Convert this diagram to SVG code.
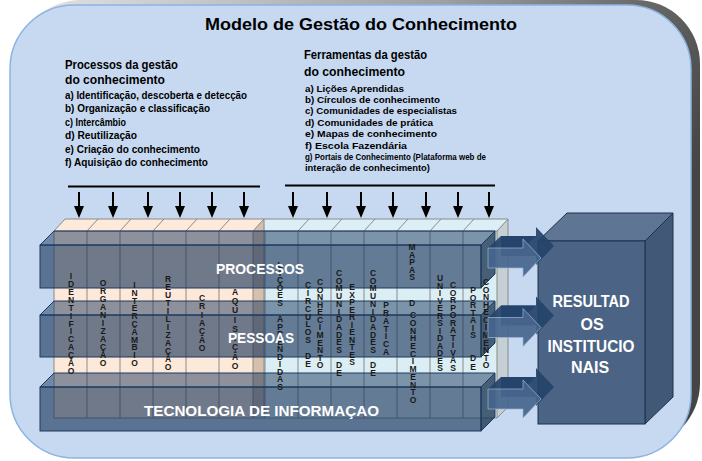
<svg xmlns="http://www.w3.org/2000/svg" width="702" height="461" viewBox="0 0 702 461">
<defs>
<linearGradient id="shadowGrad" x1="0" y1="0" x2="1" y2="0.35">
<stop offset="0" stop-color="#e4e4e4"/>
<stop offset="0.55" stop-color="#a0a0a0"/>
<stop offset="1" stop-color="#454545"/>
</linearGradient>
<marker id="ah" viewBox="0 0 12 10" refX="0" refY="5" markerWidth="12" markerHeight="10" markerUnits="userSpaceOnUse" orient="auto">
<path d="M0,0 L12,5 L0,10 Z" fill="#000"/>
</marker>
<g id="barrow">
<path class="ab" d="M501,-22 H536 V-31 L554,-12 L536,7 V-2 H501 Z"/>
<path class="ab" d="M488,-10 L501,-22 H536 L523,-10 Z"/>
<path class="af" d="M488,-10 H523 V-19 L541,0 L523,19 V10 H488 Z"/>
</g>
<style>
.t{font-family:'Liberation Sans',Arial,sans-serif;font-weight:bold;fill:#000}
.h{font-size:13px}
.il{font-size:10.5px}
.ir{font-size:9.5px}
.v{font-family:'Liberation Sans',Arial,sans-serif;font-weight:bold;font-size:8.5px;fill:#1a1a1a;text-anchor:middle}
.w{font-family:'Liberation Sans',Arial,sans-serif;font-weight:bold;fill:#fff;font-size:15px}
.bx{font-family:'Liberation Sans',Arial,sans-serif;font-weight:bold;fill:#fff;font-size:16px;text-anchor:middle}
.g{stroke:#8a8a8a;stroke-width:1;fill:none}
.bf{fill:#122f55;fill-opacity:.6;stroke:#1c3a5e;stroke-width:1}
.bt{fill:#122f55;fill-opacity:.47;stroke:#1c3a5e;stroke-width:1}
.br{fill:#0e2747;fill-opacity:.72;stroke:#1c3a5e;stroke-width:1}
.ab{fill:#24436a;fill-opacity:.92}
.af{fill:#46658d;fill-opacity:.92;stroke:#9db6d6;stroke-width:.7}
.dn{stroke:#000;stroke-width:2;marker-end:url(#ah)}
</style>
</defs>

<g id="frame">
<rect x="17" y="0" width="683" height="447" rx="64" fill="url(#shadowGrad)"/>
<rect x="10" y="5" width="681" height="453" rx="64" fill="#c6d9f1" stroke="#8db3e2" stroke-width="1.5"/>
</g>

<g id="title">
<text class="t" x="205" y="30" font-size="16" textLength="312" lengthAdjust="spacingAndGlyphs">Modelo de Gestão do Conhecimento</text>
</g>

<g id="processos-text">
<text class="t h" x="65" y="69" textLength="113" lengthAdjust="spacingAndGlyphs">Processos da gestão</text>
<text class="t h" x="65" y="84" textLength="100" lengthAdjust="spacingAndGlyphs">do conhecimento</text>
<text class="t il" x="65" y="98.5" textLength="182" lengthAdjust="spacingAndGlyphs">a) Identificação, descoberta e detecção</text>
<text class="t il" x="65" y="112" textLength="145" lengthAdjust="spacingAndGlyphs">b) Organização e classificação</text>
<text class="t il" x="65" y="125.5" textLength="61" lengthAdjust="spacingAndGlyphs">c) Intercâmbio</text>
<text class="t il" x="65" y="139" textLength="72" lengthAdjust="spacingAndGlyphs">d) Reutilização</text>
<text class="t il" x="65" y="152.5" textLength="135" lengthAdjust="spacingAndGlyphs">e) Criação do conhecimento</text>
<text class="t il" x="65" y="166" textLength="143" lengthAdjust="spacingAndGlyphs">f) Aquisição do conhecimento</text>
</g>

<g id="ferramentas-text">
<text class="t h" x="304" y="59" textLength="123" lengthAdjust="spacingAndGlyphs">Ferramentas da gestão</text>
<text class="t h" x="304" y="76" textLength="101" lengthAdjust="spacingAndGlyphs">do conhecimento</text>
<text class="t ir" x="305" y="91.5" textLength="99" lengthAdjust="spacingAndGlyphs">a) Lições Aprendidas</text>
<text class="t ir" x="305" y="102.9" textLength="135" lengthAdjust="spacingAndGlyphs">b) Círculos de conhecimento</text>
<text class="t ir" x="305" y="114.3" textLength="152" lengthAdjust="spacingAndGlyphs">c) Comunidades de especialistas</text>
<text class="t ir" x="305" y="125.7" textLength="128" lengthAdjust="spacingAndGlyphs">d) Comunidades de prática</text>
<text class="t ir" x="305" y="137.1" textLength="132" lengthAdjust="spacingAndGlyphs">e) Mapas de conhecimento</text>
<text class="t ir" x="305" y="148.5" textLength="102" lengthAdjust="spacingAndGlyphs">f) Escola Fazendária</text>
<text class="t ir" x="305" y="159.9" textLength="181" lengthAdjust="spacingAndGlyphs">g) Portais de Conhecimento (Plataforma web de</text>
<text class="t ir" x="305" y="171.3" textLength="125" lengthAdjust="spacingAndGlyphs">interação de conhecimento)</text>
</g>

<g id="connectors">
<line x1="68" y1="186.5" x2="260" y2="186.5" stroke="#000" stroke-width="2"/>
<line x1="285" y1="185.5" x2="495" y2="185.5" stroke="#000" stroke-width="2"/>
<line class="dn" x1="79" y1="192" x2="79" y2="206"/>
<line class="dn" x1="113" y1="192" x2="113" y2="206"/>
<line class="dn" x1="148" y1="192" x2="148" y2="206"/>
<line class="dn" x1="180" y1="192" x2="180" y2="206"/>
<line class="dn" x1="212" y1="192" x2="212" y2="206"/>
<line class="dn" x1="244" y1="192" x2="244" y2="206"/>
<line class="dn" x1="293" y1="192" x2="293" y2="206"/>
<line class="dn" x1="327" y1="192" x2="327" y2="206"/>
<line class="dn" x1="361" y1="192" x2="361" y2="206"/>
<line class="dn" x1="393" y1="192" x2="393" y2="206"/>
<line class="dn" x1="426" y1="192" x2="426" y2="206"/>
<line class="dn" x1="458" y1="192" x2="458" y2="206"/>
<line class="dn" x1="489" y1="192" x2="489" y2="206"/>
</g>

<g id="columns">
<rect x="54" y="231" width="199" height="187" fill="#fde9d9"/>
<polygon points="54,231 65,219 264,219 253,231" fill="#fdeada"/>
<polygon points="253,231 264,219 264,407 253,418" fill="#d5bfad"/>
<rect x="265" y="231" width="232" height="187" fill="#dbeef4"/>
<polygon points="264,219 508,219 497,231 265,231" fill="#ddeff6"/>
<polygon points="497,231 508,219 508,407 497,418" fill="#c4d0d4"/>
<path class="g" d="M54,231 L65,219 H508 L497,231 H54 Z M54,231 V418 H497 V231 M508,219 V407 L497,418 M253,231 V418 M265,231 V418 M253,231 L264,219 V407"/>
<path class="g" d="M87,231 V418 M120,231 V418 M153,231 V418 M186,231 V418 M219,231 V418 M298,231 V418 M331,231 V418 M364,231 V418 M397,231 V418 M430,231 V418 M463,231 V418"/>
<path class="g" d="M87,231 L98,219 M120,231 L131,219 M153,231 L164,219 M186,231 L197,219 M219,231 L230,219 M298,231 L309,219 M331,231 L342,219 M364,231 L375,219 M397,231 L408,219 M430,231 L441,219 M463,231 L474,219"/>
</g>

<g id="bar-processos">
<polygon class="bt" points="40,245 54,231 495,231 481,245"/>
<rect class="bf" x="40" y="245" width="441" height="43"/>
<polygon class="br" points="481,245 495,231 495,274 481,288"/>
</g>
<g id="bar-pessoas">
<polygon class="bt" points="40,315 54,301 495,301 481,315"/>
<rect class="bf" x="40" y="315" width="441" height="42"/>
<polygon class="br" points="481,315 495,301 495,343 481,357"/>
</g>
<g id="bar-tecnologia">
<polygon class="bt" points="40,387 54,373 495,373 481,387"/>
<rect class="bf" x="40" y="387" width="441" height="44"/>
<polygon class="br" points="481,387 495,373 495,417 481,431"/>
</g>

<g id="column-labels">
<text class="v" x="71 71 71 71 71 71 71 71 71 71 71 71 71" y="279 287 295 303 311 319 327 334 342 350 358 366 374">IDENTIFICAÇÃO</text>
<text class="v" x="103 103 103 103 103 103 103 103 103 103 103" y="286 294 302 310 318 326 334 342 350 358 366">ORGANIZAÇÃO</text>
<text class="v" x="134.5 134.5 134.5 134.5 134.5 134.5 134.5 134.5 134.5 134.5 134.5" y="288 296 304 311 319 327 335 343 350 358 366">INTERCÂMBIO</text>
<text class="v" x="168 168 168 168 168 168 168 168 168 168 168 168" y="282 290 298 306 314 322 330 338 346 354 362 370">REUTILIZAÇÃO</text>
<text class="v" x="202 202 202 202 202 202 202" y="301 309 318 326 334 343 351">CRIAÇÃO</text>
<text class="v" x="235 235 235 235 235 235 235 235 235" y="295 304 313 323 332 341 350 360 369">AQUISIÇÃO</text>
<text class="v" x="280 280 280 280 280 280 280 280 280 280 280 280 280 280 280 280 280" y="268 275.5 283 290.5 298 306 314 322 329.5 337 344.5 352 359.5 367 374.5 382 390">LIÇÕES APRENDIDAS</text>
<text class="v" x="308 308 308 308 308 308 308 308 308 308 308" y="288 296 304 312 320 327 335 343 351 359 367">CÍRCULOS DE</text>
<text class="v" x="320 320 320 320 320 320 320 320 320 320 320 320" y="285 292.5 300 307.5 315 323 330 338 345.5 353 360.5 368">CONHECIMENTO</text>
<text class="v" x="339 339 339 339 339 339 339 339 339 339 339 339 339 339" y="276 283.7 291.4 299.1 306.8 314.5 322.2 329.9 337.6 345.3 353 361 368 376">COMUNIDADES DE</text>
<text class="v" x="352 352 352 352 352 352 352 352 352 352 352" y="290 297.5 305 312.5 320 327.5 335 342.5 350 357.5 365">EXPERIENTES</text>
<text class="v" x="373 373 373 373 373 373 373 373 373 373 373 373 373 373" y="276 283.7 291.4 299.1 306.8 314.5 322.2 329.9 337.6 345.3 353 361 368 376">COMUNIDADES DE</text>
<text class="v" x="386 386 386 386 386 386 386" y="308 316 324 331.5 339 347 355">PRÁTICA</text>
<text class="v" x="412 412 412 412 412 412 412" y="250 257.5 265 272.5 280 293 306">MAPAS D</text>
<text class="v" x="413 413 413 413 413 413 413 413 413 413 413 413" y="318 325.7 333.5 341.2 348.9 356.7 364.4 372.1 379.8 387.6 395.3 403">CONHECIMENTO</text>
<text class="v" x="440 440 440 440 440 440 440 440 440 440 440 440 440" y="281 288.5 296 303.5 311 318.5 326 333.5 341 348.5 356 363.5 371">UNIVERSIDADES</text>
<text class="v" x="453 453 453 453 453 453 453 453 453 453 453 453" y="288 295.5 303 310.5 318 325.5 333 340.5 348 355.5 363 371">CORPORATIVAS</text>
<text class="v" x="473 473 473 473 473 473 473 473 473 473" y="293 300.5 308 315.5 323 330.5 338 349 361 370">PORTAIS DE</text>
<text class="v" x="486 486 486 486 486 486 486 486 486 486 486 486" y="285 292.5 300 307.5 315 323 330 338 345.5 353 360.5 368">CONHECIMENTO</text>
</g>

<g id="bar-labels">
<text class="w" x="216" y="274" textLength="88" lengthAdjust="spacingAndGlyphs">PROCESSOS</text>
<text class="w" x="228" y="343" textLength="66" lengthAdjust="spacingAndGlyphs">PESSOAS</text>
<text class="w" x="144" y="416" textLength="235" lengthAdjust="spacingAndGlyphs">TECNOLOGIA DE INFORMAÇAO</text>
</g>

<g id="resultados">
<polygon points="538,241 567,213 673,213 645,241" fill="#5e7594" stroke="#1d314d" stroke-width="1"/>
<polygon points="645,241 673,213 673,397 645,424" fill="#415877" stroke="#1d314d" stroke-width="1"/>
<rect x="538" y="241" width="107" height="183" fill="#4b6485" stroke="#1d314d" stroke-width="1"/>
</g>

<g id="output-arrows">
<use href="#barrow" transform="translate(0,258)"/>
<use href="#barrow" transform="translate(0,327.5)"/>
<use href="#barrow" transform="translate(0,399)"/>
</g>

<g id="resultados-label">
<text class="bx" x="591" y="307" textLength="77" lengthAdjust="spacingAndGlyphs">RESULTAD</text>
<text class="bx" x="592" y="329.5">OS</text>
<text class="bx" x="591" y="351.5" textLength="87" lengthAdjust="spacingAndGlyphs">INSTITUCIO</text>
<text class="bx" x="590" y="372.5">NAIS</text>
</g>
</svg>
